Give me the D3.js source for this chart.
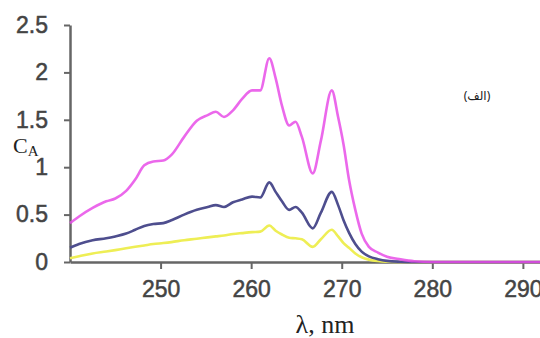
<!DOCTYPE html>
<html>
<head>
<meta charset="utf-8">
<script src="https://cdn.jsdelivr.net/npm/d3@7"></script>
<style>
  body { margin: 0; background: #fff; }
  .tick text { font-family: "Liberation Sans", Arial, sans-serif; font-size: 23px; fill: #444; stroke: #444; stroke-width: 0.5px; }
</style>
</head>
<body>
<div id="chart"></div>
<script>
// wavelengths (nm) and absorbance for the three curves
var wavelength = [240, 241, 242.5, 244, 245, 246.2, 247.2, 248.2, 249.2, 250.3, 251.2, 252.6, 254, 255.2, 256.1, 257, 258, 259, 260.1, 261,
                  262, 262.7, 263.4, 264.2, 264.9, 265.6, 266.8, 267.7, 268.9, 269.6, 270.2, 270.8, 271.5, 272.2, 273, 274, 275, 276.5, 278, 280, 292];
var magenta = [0.41, 0.48, 0.57, 0.64, 0.67, 0.75, 0.87, 1.02, 1.06, 1.07, 1.13, 1.32, 1.49, 1.55, 1.585, 1.53, 1.60, 1.72, 1.81, 1.81,
               2.15, 1.94, 1.65, 1.44, 1.48, 1.32, 0.935, 1.28, 1.81, 1.53, 1.24, 0.87, 0.55, 0.30, 0.16, 0.10, 0.056, 0.028, 0.008, 0, 0];
var navy = [0.15, 0.19, 0.23, 0.25, 0.27, 0.30, 0.34, 0.38, 0.40, 0.41, 0.44, 0.50, 0.55, 0.58, 0.60, 0.58, 0.63, 0.66, 0.69, 0.68,
            0.84, 0.74, 0.64, 0.55, 0.58, 0.52, 0.355, 0.52, 0.74, 0.60, 0.44, 0.31, 0.19, 0.11, 0.06, 0.03, 0.012, 0.003, 0, 0, 0];
var yellow = [0.04, 0.06, 0.09, 0.11, 0.125, 0.145, 0.16, 0.175, 0.19, 0.20, 0.21, 0.23, 0.245, 0.26, 0.27, 0.28, 0.295, 0.305, 0.315, 0.32,
              0.385, 0.33, 0.29, 0.255, 0.25, 0.24, 0.16, 0.24, 0.34, 0.27, 0.20, 0.15, 0.09, 0.05, 0.025, 0.01, 0.003, 0, 0, 0, 0];
var xTicks = [250, 260, 270, 280, 290];
var yTicks = [0, 0.5, 1, 1.5, 2, 2.5];

var width = 540, height = 338;

var x = d3.scaleLinear().domain([240, 292]).range([70, 541]);
var y = d3.scaleLinear().domain([0, 2.5]).range([262, 25]);

var svg = d3.select("#chart").append("svg")
    .attr("width", width)
    .attr("height", height);

// axes
svg.append("g")
    .attr("transform", "translate(0,262)")
    .call(d3.axisBottom(x).tickValues(xTicks).tickSize(7).tickSizeOuter(0).tickPadding(12));

svg.append("g")
    .attr("transform", "translate(70,0)")
    .call(d3.axisLeft(y).tickValues(yTicks).tickSize(6).tickSizeOuter(0).tickPadding(16)
      .tickFormat(function(d) { return String(d); }));

svg.selectAll(".domain").attr("stroke", "#666").attr("stroke-width", 2.5);
svg.selectAll(".tick line").attr("stroke", "#666").attr("stroke-width", 2);

// curves
var line = d3.line()
    .x(function(d) { return x(d[0]); })
    .y(function(d) { return y(d[1]); })
    .curve(d3.curveMonotoneX);

var series = [
  {values: yellow, color: "#eeee55", op: 1},
  {values: navy, color: "#4e4e8e", op: 1},
  {values: magenta, color: "#e84ee8", op: 0.85}
];

series.forEach(function(s) {
  svg.append("path")
     .datum(wavelength.map(function(w, i) { return [w, s.values[i]]; }))
     .attr("fill", "none")
     .attr("stroke", s.color)
     .attr("stroke-opacity", s.op)
     .attr("stroke-width", 2.6)
     .attr("stroke-linejoin", "round")
     .attr("d", line);
});

// axis labels
svg.append("text")
   .attr("x", 325)
   .attr("y", 333)
   .attr("text-anchor", "middle")
   .style("font-family", "'Liberation Serif', 'Times New Roman', serif")
   .style("font-size", "26px")
   .style("fill", "#222")
   .text("λ, nm");

var ca = svg.append("text")
   .attr("x", 13)
   .attr("y", 153)
   .style("font-family", "'Liberation Serif', 'Times New Roman', serif")
   .style("font-size", "22px")
   .style("fill", "#222");
ca.append("tspan").text("C");
ca.append("tspan").attr("dy", 3).style("font-size", "15px").text("A");

svg.append("text")
   .attr("x", 477)
   .attr("y", 100)
   .attr("text-anchor", "middle")
   .style("font-family", "'Noto Sans', 'DejaVu Sans', sans-serif")
   .style("font-size", "12px")
   .style("fill", "#222")
   .text("(الف)");
</script>
</body>
</html>
